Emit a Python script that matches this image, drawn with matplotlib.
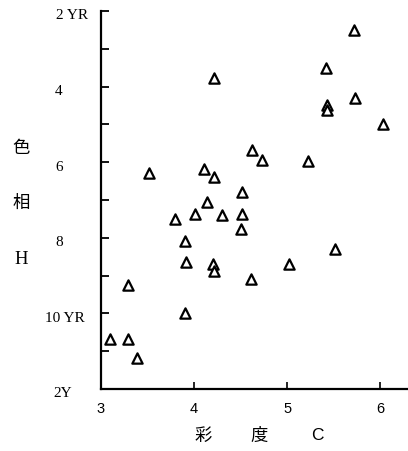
import matplotlib
matplotlib.use("Agg")
import matplotlib.pyplot as plt
import matplotlib.transforms as mtransforms

# Data: chroma C (x) and hue step H (y; 2 = 2YR ... 10 = 10YR, 12 = 2Y)
chroma = [5.72, 5.42, 4.22, 5.43, 5.43, 5.73, 6.03, 4.62, 4.73, 5.22, 3.52,
          4.11, 4.22, 4.52, 4.14, 3.80, 4.01, 4.30, 4.52, 4.51, 3.90, 3.91,
          4.20, 4.21, 5.52, 5.02, 4.61, 3.29, 3.90, 3.10, 3.29, 3.39]
hue = [2.51, 3.50, 3.78, 4.49, 4.62, 4.31, 5.00, 5.67, 5.95, 5.98, 6.28,
       6.17, 6.38, 6.78, 7.04, 7.50, 7.36, 7.39, 7.37, 7.78, 8.08, 8.64,
       8.70, 8.88, 8.30, 8.69, 9.08, 9.26, 9.98, 10.69, 10.69, 11.19]

x_ticks = [4, 5, 6]
x_ticklabels = ["4", "5", "6"]
y_ticks = list(range(2, 13))
y_label_vals = [2, 4, 6, 8, 10, 12]
y_label_text = ["2 YR", "4", "6", "8", "10 YR", "2Y"]
y_label_offsets_px = [45, 46, 46, 46, 56, 48]

W, H = 408, 452
fig = plt.figure(figsize=(W / 100, H / 100), dpi=100)
ax = fig.add_axes([101 / W, 62 / H, (W - 101) / W, (390 - 12) / H])

ax.scatter(chroma, hue, marker="^", s=55, facecolors="white",
           edgecolors="black", linewidths=1.6, zorder=3)

ax.set_xlim(3, 6.30)
ax.set_ylim(12, 2)

for s in ["top", "right"]:
    ax.spines[s].set_visible(False)
for s in ["left", "bottom"]:
    ax.spines[s].set_linewidth(1.6)

ax.set_xticks([3] + x_ticks)
ax.set_xticklabels(["3"] + x_ticklabels, fontsize=10.5, family="Liberation Sans")
ax.tick_params(axis="x", direction="in", length=5, width=1.2, pad=9)
ax.xaxis.get_major_ticks()[0].tick1line.set_visible(False)

ax.set_yticks(y_ticks)
ax.set_yticklabels([])
ax.tick_params(axis="y", direction="in", length=6, width=1.3)

base = mtransforms.blended_transform_factory(ax.transAxes, ax.transData)
for v, t, off in zip(y_label_vals, y_label_text, y_label_offsets_px):
    tr = base + mtransforms.ScaledTranslation(-off / 100, -4 / 100, fig.dpi_scale_trans)
    ax.text(0, v, t, transform=tr, ha="left", va="center", fontsize=11,
            family="Liberation Serif", clip_on=False)

cjk = ["Noto Sans CJK JP", "Liberation Serif"]
# y-axis label, stacked vertically
fig.text(21 / W, 1 - 148 / H, "色", ha="center", va="center", fontsize=12.5, family=cjk)
fig.text(21 / W, 1 - 203 / H, "相", ha="center", va="center", fontsize=12.5, family=cjk)
fig.text(21 / W, 1 - 260 / H, "H", ha="center", va="center", fontsize=13.5, family="Liberation Serif")
# x-axis label
fig.text(203 / W, 1 - 436 / H, "彩", ha="center", va="center", fontsize=12.5, family=cjk)
fig.text(259 / W, 1 - 436 / H, "度", ha="center", va="center", fontsize=12.5, family=cjk)
fig.text(317 / W, 1 - 436 / H, "C", ha="center", va="center", fontsize=12.5, family="Liberation Sans")

fig.savefig("out.png", dpi=100)
